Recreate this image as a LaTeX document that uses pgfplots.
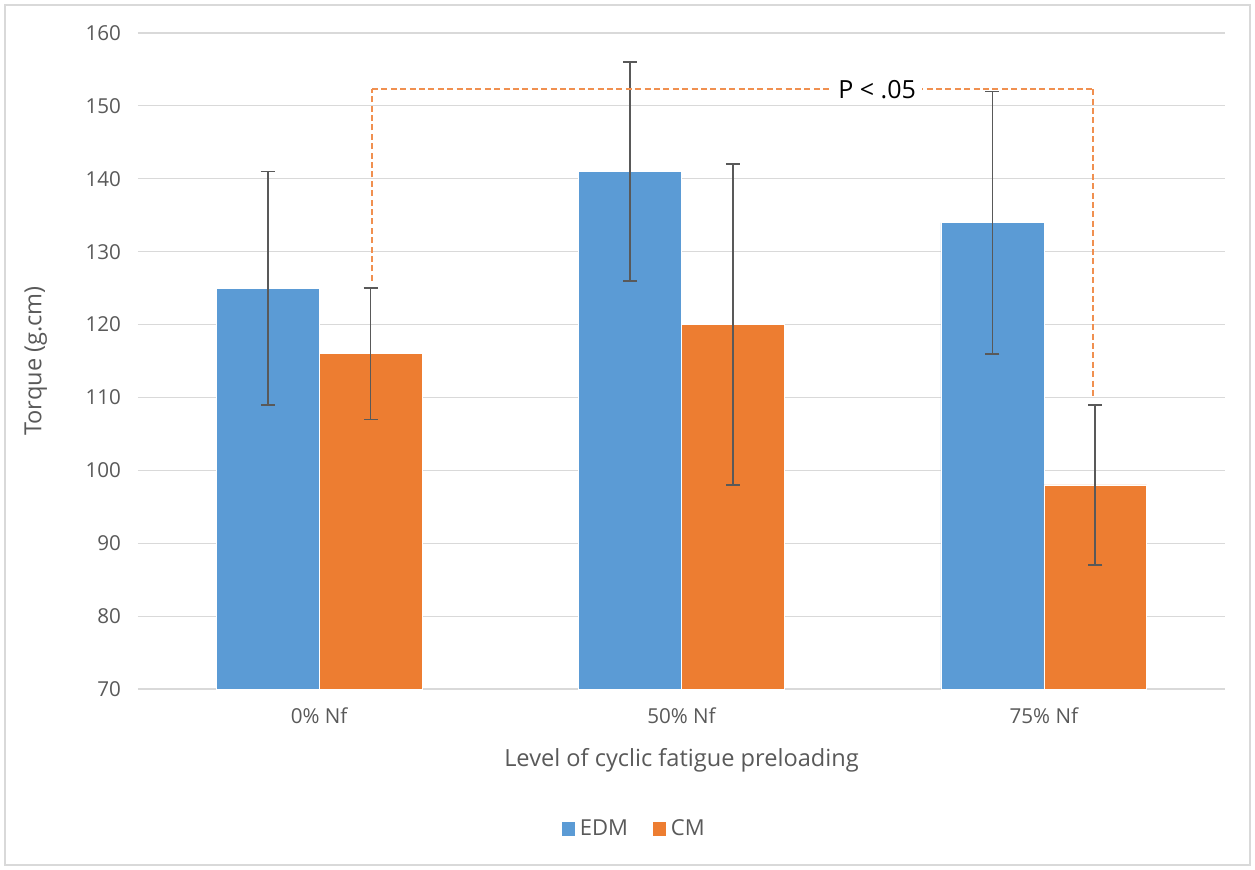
\documentclass[border=0pt]{standalone}
\usepackage{pgfplots}
\pgfplotsset{compat=1.18}
\usepackage{fontspec}
\setmainfont{Open Sans}
\definecolor{edmcol}{HTML}{5B9BD5}
\definecolor{cmcol}{HTML}{ED7D31}
\definecolor{txt}{HTML}{595959}
\definecolor{grd}{HTML}{D9D9D9}
\definecolor{errcol}{HTML}{595959}
\begin{document}
\begin{tikzpicture}
\useasboundingbox (-69pt,-90pt) rectangle (558.5pt,344.5pt);
\draw[grd, line width=0.6pt] (-66.5pt,-88pt) rectangle (556pt,342pt);
\begin{axis}[
  scale only axis,
  width=543.5pt, height=328pt,
  ybar=0pt, bar width=0.284,
  xmin=-0.5, xmax=2.5,
  ymin=70, ymax=160,
  ytick={70,80,...,160},
  xtick=data,
  xticklabels={0\% Nf,50\% Nf,75\% Nf},
  major tick length=0pt,
  axis line style={draw=none},
  ymajorgrids,
  grid style={grd, line width=0.6pt},
  tick label style={font=\fontsize{10.3}{12}\selectfont, text=txt},
  /pgf/number format/assume math mode=true,
  xticklabel style={yshift=-6pt},
  yticklabel style={xshift=-5pt},
  xlabel={Level of cyclic fatigue preloading},
  ylabel={Torque (g.cm)},
  label style={font=\fontsize{11.8}{14}\selectfont, text=txt},
  xlabel style={at={(axis description cs:0.5,-0.108)}, anchor=center},
  ylabel style={at={(axis description cs:-0.094,0.5)}, anchor=center},
  legend columns=2,
  legend style={draw=none, at={(axis description cs:0.457,-0.213)}, anchor=center,
    font=\fontsize{11}{12}\selectfont, text=txt,
    /tikz/every even column/.append style={column sep=10pt}},
  legend image code/.code={\fill[#1] (0pt,-3.6pt) rectangle (7.2pt,3.6pt);},
  clip=false,
  error bars/y dir=both, error bars/y explicit,
  error bars/error bar style={errcol, line width=0.8pt},
  error bars/error mark options={errcol, line width=0.8pt, mark size=3.5pt, rotate=90},
]
\addplot[fill=edmcol, draw=white, line width=0.3pt] coordinates {
  (0,125) +- (0,16)
  (1,141) +- (0,15)
  (2,134) +- (0,18)
};
\addplot[fill=cmcol, draw=white, line width=0.3pt] coordinates {
  (0,116) +- (0,9)
  (1,120) +- (0,22)
  (2,98) +- (0,11)
};
\legend{EDM,CM}
\draw[draw=cmcol!85!white, line width=0.75pt, dash pattern=on 3pt off 1.7pt]
  (axis cs:0.146,126) -- (axis cs:0.146,152.3);
\draw[draw=cmcol!85!white, line width=0.75pt, dash pattern=on 3pt off 1.7pt]
  (axis cs:0.146,152.3) -- (axis cs:2.136,152.3);
\draw[draw=cmcol!85!white, line width=0.75pt, dash pattern=on 3pt off 1.7pt]
  (axis cs:2.136,152.3) -- (axis cs:2.136,110);
\node[fill=white, text=black, font=\fontsize{12.5}{14}\selectfont, inner sep=3pt] at (axis cs:1.54,152.2) {P < .05};
\end{axis}
\end{tikzpicture}
\end{document}
